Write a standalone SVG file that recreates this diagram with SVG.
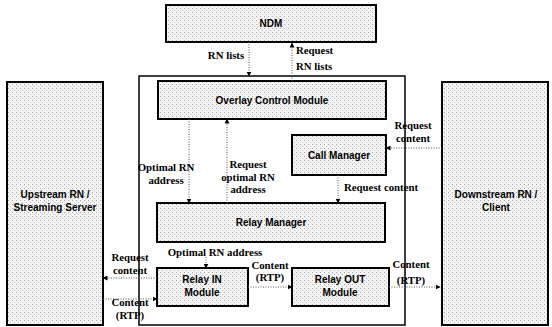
<svg xmlns="http://www.w3.org/2000/svg" width="552" height="327" viewBox="0 0 552 327">
<style>
.box{stroke:#000;stroke-width:2;fill:url(#dots)}
.cont{stroke:#000;stroke-width:1.5;fill:none}
.nt{font-family:"Liberation Sans",Arial,sans-serif;font-weight:bold;font-size:10px;fill:#000;text-anchor:middle}
.lb{font-family:"Liberation Serif","Times New Roman",serif;font-weight:bold;font-size:10.8px;fill:#000;text-anchor:middle}
.st{text-anchor:start}
.cn{stroke:#555;stroke-width:1;stroke-dasharray:1,1.5;fill:none;marker-end:url(#ah)}
</style>
<defs>
<pattern id="dots" width="4" height="4" patternUnits="userSpaceOnUse">
<rect width="4" height="4" fill="#f4f4f4"/>
<rect x="0" y="0" width="1" height="1" fill="#a8a8a8"/>
<rect x="2" y="2" width="1" height="1" fill="#c4c4c4"/>
</pattern>
<marker id="ah" viewBox="0 0 10 10" refX="9" refY="5" markerWidth="5" markerHeight="5" markerUnits="userSpaceOnUse" orient="auto">
<path d="M0,0 L10,5 L0,10 z" fill="#000"/>
</marker>
</defs>
<rect width="552" height="327" fill="#fff"/>
<g id="container"><rect class="cont" x="139" y="76" width="266" height="249"/></g>
<g id="ndm"><rect class="box" x="166" y="5" width="210" height="37"/><text class="nt" x="271" y="27">NDM</text></g>
<g id="overlay"><rect class="box" x="158" y="81" width="228" height="38"/><text class="nt" x="272" y="103.5">Overlay Control Module</text></g>
<g id="callmgr"><rect class="box" x="292" y="135" width="94" height="40"/><text class="nt" x="339" y="158.5">Call Manager</text></g>
<g id="relaymgr"><rect class="box" x="157" y="203" width="228" height="39"/><text class="nt" x="271" y="226">Relay Manager</text></g>
<g id="relayin"><rect class="box" x="157" y="268" width="91" height="38"/><text class="nt" x="202" y="283">Relay IN</text><text class="nt" x="202" y="296">Module</text></g>
<g id="relayout"><rect class="box" x="292" y="268" width="97" height="38"/><text class="nt" x="340" y="283">Relay OUT</text><text class="nt" x="340" y="296">Module</text></g>
<g id="upstream"><rect class="box" x="7" y="82" width="96" height="243"/><text class="nt" x="55" y="198">Upstream RN /</text><text class="nt" x="55" y="211">Streaming Server</text></g>
<g id="downstream"><rect class="box" x="442" y="82" width="106" height="243"/><text class="nt" x="496" y="198">Downstream RN /</text><text class="nt" x="496" y="211">Client</text></g>
<g id="connectors">
<path class="cn" d="M249,42 V76"/>
<path class="cn" d="M292,81 V43"/>
<path class="cn" d="M189,119 V203"/>
<path class="cn" d="M227,203 V119"/>
<path class="cn" d="M442,148 H386"/>
<path class="cn" d="M338,175 V203"/>
<path class="cn" d="M206,257 V268"/>
<path class="cn" d="M157,278 H103"/>
<path class="cn" d="M103,299 H157"/>
<path class="cn" d="M248,287 H292"/>
<path class="cn" d="M389,287 H440"/>
</g>
<g id="labels">
<text class="lb" x="226" y="59">RN lists</text>
<text class="lb st" x="296" y="54">Request</text>
<text class="lb st" x="296" y="70">RN lists</text>
<text class="lb" x="166" y="171">Optimal RN</text>
<text class="lb" x="166" y="184">address</text>
<text class="lb" x="248" y="168">Request</text>
<text class="lb" x="248" y="181">optimal RN</text>
<text class="lb" x="248" y="193">address</text>
<text class="lb" x="413" y="129">Request</text>
<text class="lb" x="413" y="142">content</text>
<text class="lb st" x="344" y="191">Request content</text>
<text class="lb" x="215" y="256">Optimal RN address</text>
<text class="lb" x="130" y="261">Request</text>
<text class="lb" x="130" y="274">content</text>
<text class="lb" x="130" y="306">Content</text>
<text class="lb" x="130" y="319">(RTP)</text>
<text class="lb" x="270" y="269">Content</text>
<text class="lb" x="270" y="281">(RTP)</text>
<text class="lb" x="411" y="268">Content</text>
<text class="lb" x="411" y="284">(RTP)</text>
</g>
</svg>
